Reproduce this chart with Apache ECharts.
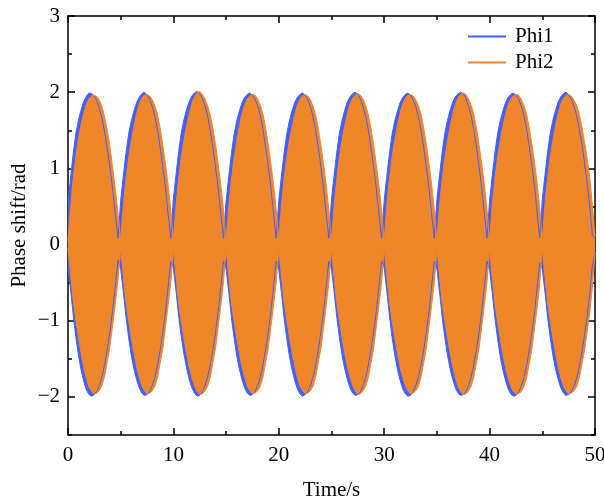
<!DOCTYPE html>
<html>
<head>
<meta charset="utf-8">
<script src="https://cdn.jsdelivr.net/npm/echarts@6/dist/echarts.min.js"></script>
<style>html,body{margin:0;padding:0;background:#fff}#c{width:604px;height:504px}</style>
</head>
<body>
<div id="c"></div>
<script>
// sampling grid: 0 .. 50 s, every 0.25 s
const time = [];
for (let i = 0; i <= 200; i++) time.push(i * 0.25);

// envelope of Phi1 (blue), upper and lower edge
const phi1Upper = [
 0.55,0.88,1.20,1.46,1.64,1.77,1.88,1.95,1.99,1.98,1.95,1.88,1.78,1.64,1.46,1.24,0.99,0.71,0.38,0.08,
 0.58,0.90,1.20,1.45,1.62,1.75,1.86,1.93,1.98,2.00,1.96,1.90,1.81,1.68,1.50,1.27,1.02,0.74,0.40,0.08,
 0.60,0.92,1.22,1.47,1.64,1.77,1.88,1.95,1.99,2.01,1.98,1.92,1.82,1.69,1.50,1.27,1.02,0.74,0.40,0.08,
 0.57,0.89,1.19,1.44,1.62,1.75,1.86,1.93,1.97,1.99,1.96,1.91,1.82,1.69,1.51,1.28,1.03,0.75,0.41,0.08,
 0.58,0.90,1.20,1.45,1.62,1.75,1.86,1.93,1.97,1.99,1.96,1.90,1.81,1.68,1.50,1.27,1.02,0.74,0.40,0.08,
 0.59,0.91,1.21,1.46,1.63,1.76,1.87,1.94,1.98,2.00,1.97,1.91,1.81,1.68,1.50,1.27,1.02,0.74,0.40,0.08,
 0.58,0.90,1.20,1.45,1.62,1.75,1.86,1.93,1.97,1.99,1.96,1.90,1.81,1.68,1.50,1.27,1.02,0.74,0.40,0.08,
 0.59,0.91,1.21,1.46,1.63,1.76,1.87,1.94,1.98,2.00,1.98,1.92,1.82,1.69,1.51,1.28,1.03,0.75,0.41,0.08,
 0.58,0.90,1.20,1.45,1.62,1.75,1.86,1.93,1.97,1.99,1.96,1.91,1.82,1.70,1.52,1.30,1.05,0.78,0.44,0.09,
 0.59,0.91,1.21,1.46,1.63,1.76,1.87,1.94,1.98,2.00,1.97,1.91,1.82,1.70,1.53,1.32,1.08,0.82,0.50,0.12,
 0.08
];
const phi1Lower = [
 -0.30,-0.60,-0.93,-1.22,-1.46,-1.65,-1.80,-1.91,-1.97,-1.99,-1.97,-1.92,-1.84,-1.72,-1.56,-1.35,-1.12,-0.85,-0.53,-0.21,
 -0.32,-0.62,-0.95,-1.22,-1.45,-1.63,-1.77,-1.88,-1.95,-1.98,-1.97,-1.93,-1.85,-1.74,-1.58,-1.38,-1.15,-0.88,-0.55,-0.22,
 -0.31,-0.61,-0.94,-1.21,-1.44,-1.62,-1.77,-1.88,-1.95,-1.99,-1.98,-1.93,-1.85,-1.74,-1.58,-1.38,-1.15,-0.88,-0.55,-0.22,
 -0.32,-0.62,-0.95,-1.22,-1.45,-1.63,-1.77,-1.88,-1.95,-1.98,-1.97,-1.93,-1.85,-1.74,-1.58,-1.38,-1.15,-0.88,-0.55,-0.22,
 -0.33,-0.63,-0.96,-1.23,-1.46,-1.64,-1.78,-1.89,-1.96,-1.99,-1.97,-1.93,-1.85,-1.74,-1.58,-1.38,-1.15,-0.88,-0.55,-0.22,
 -0.32,-0.62,-0.95,-1.22,-1.45,-1.63,-1.77,-1.88,-1.95,-1.98,-1.97,-1.93,-1.85,-1.74,-1.58,-1.38,-1.15,-0.88,-0.55,-0.22,
 -0.31,-0.61,-0.94,-1.22,-1.45,-1.63,-1.78,-1.89,-1.96,-1.99,-1.98,-1.93,-1.85,-1.74,-1.58,-1.38,-1.15,-0.88,-0.55,-0.22,
 -0.32,-0.62,-0.95,-1.22,-1.45,-1.63,-1.77,-1.88,-1.95,-1.98,-1.97,-1.93,-1.85,-1.74,-1.58,-1.38,-1.15,-0.88,-0.55,-0.22,
 -0.33,-0.63,-0.96,-1.23,-1.46,-1.64,-1.78,-1.89,-1.96,-1.99,-1.98,-1.94,-1.86,-1.75,-1.60,-1.40,-1.17,-0.91,-0.58,-0.24,
 -0.32,-0.62,-0.95,-1.22,-1.45,-1.63,-1.77,-1.88,-1.95,-1.98,-1.97,-1.93,-1.86,-1.76,-1.61,-1.42,-1.20,-0.95,-0.64,-0.28,
 -0.10
];

// envelope of Phi2 (orange), upper and lower edge
const phi2Upper = [
 0.05,0.50,0.88,1.16,1.40,1.58,1.73,1.84,1.92,1.95,1.96,1.94,1.89,1.80,1.66,1.48,1.26,1.00,0.72,0.40,
 0.06,0.52,0.86,1.14,1.36,1.55,1.71,1.84,1.92,1.96,1.97,1.95,1.90,1.82,1.70,1.52,1.30,1.05,0.78,0.45,
 0.05,0.53,0.87,1.15,1.37,1.56,1.72,1.85,1.94,1.99,2.01,1.97,1.91,1.82,1.70,1.52,1.31,1.06,0.78,0.46,
 0.05,0.51,0.85,1.13,1.36,1.55,1.71,1.83,1.91,1.95,1.97,1.96,1.91,1.83,1.71,1.53,1.31,1.06,0.79,0.46,
 0.06,0.52,0.86,1.14,1.36,1.54,1.70,1.83,1.91,1.95,1.97,1.95,1.90,1.82,1.70,1.52,1.30,1.05,0.78,0.45,
 0.05,0.52,0.86,1.15,1.37,1.56,1.72,1.84,1.92,1.96,1.98,1.96,1.91,1.82,1.70,1.52,1.30,1.05,0.78,0.45,
 0.05,0.53,0.87,1.15,1.37,1.56,1.72,1.84,1.92,1.96,1.97,1.95,1.90,1.82,1.71,1.53,1.31,1.06,0.79,0.46,
 0.06,0.52,0.86,1.14,1.36,1.55,1.71,1.84,1.93,1.97,1.99,1.97,1.91,1.83,1.71,1.53,1.31,1.06,0.79,0.46,
 0.05,0.52,0.86,1.14,1.36,1.55,1.71,1.83,1.91,1.95,1.97,1.96,1.91,1.83,1.72,1.54,1.33,1.09,0.82,0.48,
 0.06,0.53,0.87,1.15,1.37,1.56,1.72,1.84,1.92,1.96,1.97,1.95,1.90,1.83,1.72,1.55,1.35,1.13,0.88,0.52,
 0.10
];
const phi2Lower = [
 -0.05,-0.40,-0.74,-0.99,-1.22,-1.43,-1.62,-1.76,-1.87,-1.93,-1.96,-1.95,-1.91,-1.84,-1.71,-1.52,-1.32,-1.04,-0.76,-0.46,
 -0.05,-0.42,-0.76,-1.00,-1.22,-1.42,-1.60,-1.74,-1.85,-1.92,-1.96,-1.95,-1.92,-1.86,-1.74,-1.55,-1.36,-1.08,-0.80,-0.50,
 -0.06,-0.43,-0.77,-1.01,-1.23,-1.43,-1.61,-1.75,-1.86,-1.93,-1.97,-1.96,-1.92,-1.86,-1.74,-1.55,-1.36,-1.08,-0.80,-0.50,
 -0.05,-0.42,-0.76,-1.00,-1.22,-1.42,-1.60,-1.74,-1.85,-1.92,-1.96,-1.95,-1.92,-1.86,-1.74,-1.55,-1.36,-1.08,-0.80,-0.50,
 -0.05,-0.41,-0.75,-0.99,-1.21,-1.41,-1.59,-1.74,-1.85,-1.92,-1.96,-1.95,-1.92,-1.86,-1.74,-1.55,-1.36,-1.08,-0.80,-0.50,
 -0.06,-0.42,-0.76,-1.00,-1.22,-1.42,-1.60,-1.74,-1.85,-1.92,-1.97,-1.96,-1.92,-1.86,-1.74,-1.55,-1.36,-1.08,-0.80,-0.50,
 -0.05,-0.42,-0.76,-1.00,-1.22,-1.42,-1.60,-1.74,-1.85,-1.92,-1.96,-1.95,-1.92,-1.86,-1.74,-1.55,-1.36,-1.08,-0.80,-0.50,
 -0.05,-0.42,-0.76,-1.00,-1.22,-1.42,-1.60,-1.75,-1.86,-1.93,-1.97,-1.96,-1.92,-1.86,-1.74,-1.55,-1.36,-1.08,-0.80,-0.50,
 -0.06,-0.43,-0.77,-1.01,-1.23,-1.43,-1.61,-1.75,-1.86,-1.93,-1.96,-1.96,-1.93,-1.87,-1.76,-1.57,-1.38,-1.11,-0.84,-0.53,
 -0.05,-0.42,-0.76,-1.00,-1.22,-1.42,-1.60,-1.74,-1.85,-1.92,-1.96,-1.95,-1.92,-1.87,-1.76,-1.58,-1.40,-1.15,-0.90,-0.56,
 -0.10
];

const xTicks = [0, 10, 20, 30, 40, 50];
const yTicks = [-2, -1, 0, 1, 2, 3];
const seriesNames = ['Phi1', 'Phi2'];

const BLUE = '#4160FF';
const ORANGE = '#F0862A';
const FONT = 'Liberation Serif';
const FS = 21;

const pair = arr => time.map((t, i) => [t, arr[i]]);

function band(name, arr, color, origin) {
  return {
    name: name, type: 'line', data: pair(arr), showSymbol: false, symbol: 'none',
    xAxisIndex: 0, yAxisIndex: 0, silent: true, animation: false,
    lineStyle: { color: color, width: 1 },
    itemStyle: { color: color },
    areaStyle: { color: color, opacity: 1, origin: origin }
  };
}

const axisLineStyle = { color: '#000', width: 1.5 };
const labelStyle = { fontFamily: FONT, fontSize: FS, color: '#000' };
const fmt = v => {
  if (Math.abs(v - Math.round(v)) > 1e-6) return '';
  const r = Math.round(v);
  return r < 0 ? '\u2212' + Math.abs(r) : String(r);
};

function xAx(pos, showLabel) {
  return {
    type: 'value', min: 0, max: 50, interval: 10, position: pos,
    axisLine: { show: true, onZero: false, lineStyle: axisLineStyle },
    axisTick: { show: true, inside: true, length: 7, lineStyle: axisLineStyle },
    minorTick: { show: true, splitNumber: 2, length: 4, lineStyle: axisLineStyle },
    splitLine: { show: false }, minorSplitLine: { show: false },
    axisLabel: Object.assign({ show: showLabel, margin: 10, formatter: fmt, hideOverlap: false }, labelStyle),
    name: showLabel ? 'Time/s' : '', nameLocation: 'middle', nameGap: 45,
    nameMoveOverlap: false,
    nameTextStyle: labelStyle
  };
}
function yMinor(pos, showLabel) {
  return {
    type: 'value', min: -2.5, max: 3, interval: 0.5, position: pos,
    axisLine: { show: true, onZero: false, lineStyle: axisLineStyle },
    axisTick: { show: true, inside: true, length: 4, lineStyle: axisLineStyle },
    splitLine: { show: false },
    axisLabel: Object.assign({ show: showLabel, margin: 8, formatter: fmt }, labelStyle),
    name: showLabel ? 'Phase shift/rad' : '', nameLocation: 'middle', nameGap: 38,
    nameMoveOverlap: false,
    nameTextStyle: labelStyle
  };
}
function yMajor(pos) {
  return {
    type: 'value', min: -2.5, max: 3, interval: 0.5, position: pos,
    axisLine: { show: false, onZero: false },
    axisTick: { show: true, inside: true, length: 7, lineStyle: axisLineStyle, customValues: yTicks },
    splitLine: { show: false },
    axisLabel: { show: false }
  };
}

const chart = echarts.init(document.getElementById('c'), null, { renderer: 'canvas' });
chart.setOption({
  animation: false,
  backgroundColor: '#fff',
  grid: { left: 68, right: 9, top: 16, bottom: 69, containLabel: false, outerBoundsMode: 'none' },
  legend: {
    data: seriesNames, orient: 'vertical', left: 463, top: 21, padding: 5,
    icon: 'rect', itemWidth: 38, itemHeight: 2, itemGap: 5,
    textStyle: { fontFamily: FONT, fontSize: FS, color: '#000', padding: [0, 0, 0, 4] }
  },
  xAxis: [xAx('bottom', true), xAx('top', false)],
  yAxis: [yMinor('left', true), yMajor('left'), yMinor('right', false), yMajor('right')],
  series: [
    band(seriesNames[0], phi1Upper, BLUE, -0.04),
    band(seriesNames[0], phi1Lower, BLUE, 0.04),
    band(seriesNames[1], phi2Upper, ORANGE, -0.04),
    band(seriesNames[1], phi2Lower, ORANGE, 0.04)
  ]
});
</script>
</body>
</html>
